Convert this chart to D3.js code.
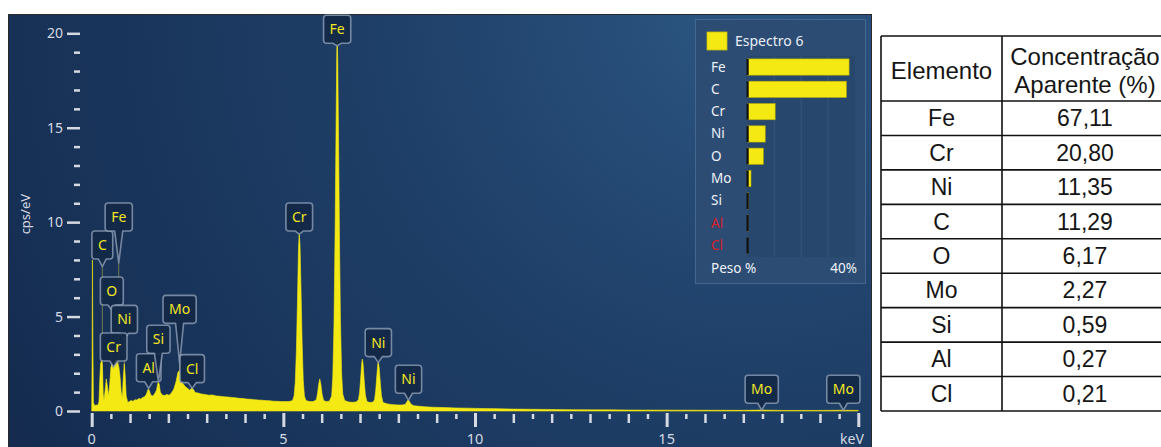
<!DOCTYPE html>
<html>
<head>
<meta charset="utf-8">
<script src="https://cdn.jsdelivr.net/npm/d3@7"></script>
<style>
  html, body { margin: 0; padding: 0; background: #ffffff; }
  svg { display: block; }
</style>
</head>
<body>
<svg id="chart" width="1161" height="447"></svg>
<script>
// ---- EDS spectrum, sampled as [energy (keV), intensity (cps/eV)] ----
const spectrumPoints = [
  [0.00,0],[0.01,2.6],[0.02,8.0],[0.03,3.8],[0.045,0.45],[0.08,0.28],[0.12,0.32],[0.16,0.3],
  [0.19,0.5],[0.21,1.6],[0.23,2.5],[0.26,2.7],[0.28,2.4],[0.30,0.9],[0.32,0.55],[0.35,1.1],
  [0.38,1.7],[0.41,1.3],[0.44,0.8],[0.47,1.4],[0.50,2.3],[0.53,2.5],[0.56,2.2],[0.59,2.6],
  [0.63,2.75],[0.67,2.55],[0.71,2.3],[0.74,1.8],[0.77,1.0],[0.80,0.7],[0.82,1.6],[0.85,2.5],
  [0.87,2.0],[0.90,0.8],[0.94,0.45],[0.98,0.5],[1.03,0.55],[1.08,0.52],[1.13,0.6],[1.18,0.58],
  [1.23,0.66],[1.28,0.64],[1.33,0.72],[1.38,0.75],[1.43,0.9],[1.47,1.15],[1.50,1.1],[1.54,0.85],
  [1.59,0.8],[1.64,0.9],[1.69,1.1],[1.73,1.5],[1.76,1.45],[1.79,1.0],[1.84,0.85],[1.90,0.82],
  [1.96,0.88],[2.02,0.84],[2.08,0.95],[2.14,1.15],[2.20,1.55],[2.25,2.05],[2.29,2.15],[2.33,1.8],
  [2.38,1.45],[2.44,1.3],[2.50,1.2],[2.56,1.1],[2.61,1.22],[2.65,1.15],[2.70,0.98],[2.78,0.95],
  [2.86,0.9],[2.95,0.88],[3.05,0.84],[3.15,0.85],[3.25,0.8],[3.35,0.78],[3.45,0.76],[3.55,0.74],
  [3.65,0.72],[3.75,0.7],[3.85,0.67],[3.95,0.66],[4.05,0.63],[4.15,0.62],[4.25,0.6],[4.35,0.58],
  [4.45,0.57],[4.55,0.55],[4.65,0.54],[4.75,0.52],[4.85,0.51],[4.95,0.5],[5.05,0.5],[5.15,0.5],
  [5.24,0.55],[5.28,0.8],[5.31,1.5],[5.34,3.2],[5.37,6.0],[5.395,8.6],[5.415,9.35],[5.435,8.8],
  [5.46,6.5],[5.49,3.6],[5.52,1.6],[5.55,0.8],[5.59,0.55],[5.68,0.5],[5.78,0.5],[5.86,0.6],
  [5.89,0.9],[5.92,1.4],[5.95,1.7],[5.98,1.4],[6.01,0.9],[6.05,0.55],[6.12,0.5],[6.20,0.52],
  [6.26,0.8],[6.29,1.8],[6.32,4.5],[6.35,9.5],[6.375,15.0],[6.395,19.0],[6.405,19.7],[6.42,18.5],
  [6.44,14.5],[6.465,9.0],[6.49,4.8],[6.52,2.0],[6.55,0.9],[6.60,0.55],[6.70,0.48],[6.80,0.46],
  [6.90,0.48],[6.96,0.6],[6.99,1.0],[7.02,1.8],[7.045,2.55],[7.06,2.75],[7.08,2.5],[7.11,1.6],
  [7.14,0.85],[7.18,0.5],[7.26,0.45],[7.34,0.47],[7.38,0.6],[7.41,1.1],[7.44,1.9],[7.465,2.5],
  [7.48,2.56],[7.50,2.3],[7.53,1.5],[7.56,0.8],[7.60,0.45],[7.70,0.38],[7.80,0.35],[7.90,0.33],
  [8.00,0.32],[8.10,0.32],[8.18,0.35],[8.22,0.48],[8.25,0.58],[8.28,0.55],[8.32,0.38],[8.40,0.28],
  [8.55,0.25],[8.70,0.22],[8.90,0.2],[9.20,0.18],[9.50,0.16],[9.80,0.15],[10.2,0.13],[10.6,0.12],
  [11.0,0.1],[11.5,0.09],[12.0,0.08],[12.5,0.07],[13.0,0.06],[13.5,0.06],[14.0,0.05],[15.0,0.045],
  [16.0,0.04],[17.0,0.035],[17.48,0.05],[18.0,0.03],[19.0,0.03],[19.6,0.04],[20.0,0.03]
];

// ---- element line markers ----
const markerElements = ["C","Fe","O","Ni","Cr","Al","Si","Mo","Cl","Cr","Fe","Ni","Ni","Mo","Mo"];
const markerEnergies = [0.277,0.705,0.525,0.851,0.573,1.487,1.740,2.293,2.622,5.415,6.404,7.478,8.265,17.48,19.61];
const markerPeaks    = [7.64,7.84,5.35,3.76,2.33,1.20,1.55,2.54,1.20,9.37,19.33,2.56,0.58,0.05,0.05];
const markerLabelAt  = [8.05,9.53,5.61,4.11,2.65,1.55,3.06,4.64,1.50,9.53,19.47,2.88,0.94,0.41,0.41];

// ---- axes ----
const xMajorTicks = [0,5,10,15];
const yMajorTicks = [0,5,10,15,20];
const xUnit = "keV";
const yUnit = "cps/eV";

// ---- quantification legend (weight %) ----
const legendTitle = "Espectro 6";
const legendElements = ["Fe","C","Cr","Ni","O","Mo","Si","Al","Cl"];
const legendWeights  = [37.8,36.8,10.3,6.6,5.9,1.3,0.3,0.2,0.1];
const legendFlagged  = ["Al","Cl"];
const legendMax = 40;

// ---- apparent concentration table ----
const tableHeaders = ["Elemento", ["Concentração", "Aparente (%)"]];
const tableElements = ["Fe","Cr","Ni","C","O","Mo","Si","Al","Cl"];
const tableValues   = [67.11,20.80,11.35,11.29,6.17,2.27,0.59,0.27,0.21];

const svg = d3.select("#chart");
const FONT = "'Noto Sans', 'Open Sans', sans-serif";
const YELLOW = "#f4e913";

// panel geometry
const panel = {x0: 8, y0: 14, x1: 871, y1: 460};

const x = d3.scaleLinear().domain([0, 20]).range([91.7, 858.3]);
const y = d3.scaleLinear().domain([0, 20]).range([411, 33.3]);

const defs = svg.append("defs");
const grad = defs.append("radialGradient").attr("id", "panelBg")
  .attr("gradientUnits", "userSpaceOnUse")
  .attr("cx", 760).attr("cy", 0).attr("r", 900);
grad.append("stop").attr("offset", "0").attr("stop-color", "#2c5783");
grad.append("stop").attr("offset", "0.4").attr("stop-color", "#1f4069");
grad.append("stop").attr("offset", "1").attr("stop-color", "#142a4e");

defs.append("clipPath").attr("id", "panelClip")
  .append("rect").attr("x", panel.x0).attr("y", panel.y0)
  .attr("width", panel.x1 - panel.x0).attr("height", panel.y1 - panel.y0);

svg.append("rect")
  .attr("x", panel.x0 + 0.5).attr("y", panel.y0 + 0.5)
  .attr("width", panel.x1 - panel.x0).attr("height", panel.y1 - panel.y0)
  .attr("fill", "url(#panelBg)")
  .attr("stroke", "#2a2a2a").attr("stroke-width", 1);

const plot = svg.append("g").attr("clip-path", "url(#panelClip)");

// ---- marker records ----
const markers = markerElements.map((el, i) => ({
  el, e: markerEnergies[i], peak: markerPeaks[i], at: markerLabelAt[i]
}));

// faint marker lines running down to the baseline
plot.append("g").selectAll("line").data(markers).join("line")
  .attr("x1", d => x(d.e)).attr("x2", d => x(d.e))
  .attr("y1", d => y(d.peak)).attr("y2", y(0))
  .attr("stroke", "rgba(225,215,70,0.45)").attr("stroke-width", 1);

// spectrum
const area = d3.area()
  .x(d => x(d[0])).y0(y(0)).y1(d => y(d[1]))
  .curve(d3.curveLinear);
plot.append("path").datum(spectrumPoints)
  .attr("d", area).attr("fill", YELLOW)
  .attr("stroke", YELLOW).attr("stroke-width", 0.6);

// ---- marker labels: rounded box with pointer ----
const mg = plot.append("g").selectAll("g").data(markers).join("g");
mg.each(function(d) {
  const g = d3.select(this);
  const t = g.append("text").text(d.el)
    .attr("font-family", FONT).attr("font-size", 14)
    .attr("fill", "#f1e625");
  const tw = t.node().getComputedTextLength();
  const w = tw + 12, h = 28, r = 3;
  const cx = x(d.e);
  const x0 = cx - w / 2, x1 = cx + w / 2;
  const yb = y(d.at), yt = yb - h;
  const tipY = y(d.peak);
  const pw = 4;
  const p = `M${x0 + r},${yt} H${x1 - r} Q${x1},${yt} ${x1},${yt + r} V${yb - r} Q${x1},${yb} ${x1 - r},${yb}` +
            ` H${cx + pw} L${cx},${tipY} L${cx - pw},${yb} H${x0 + r} Q${x0},${yb} ${x0},${yb - r}` +
            ` V${yt + r} Q${x0},${yt} ${x0 + r},${yt} Z`;
  g.insert("path", "text").attr("d", p)
    .attr("fill", "rgba(20,40,70,0.92)")
    .attr("stroke", "rgba(150,165,188,0.75)").attr("stroke-width", 1.6)
    .attr("stroke-linejoin", "round");
  t.attr("x", cx).attr("y", yt + h / 2 + 5).attr("text-anchor", "middle");
});

// ---- axes ----
const tickColor = "#d5dae2";
function styleAxis(g) {
  g.select(".domain").remove();
  g.selectAll(".tick line").attr("stroke", tickColor).attr("stroke-width", 2.5);
  g.selectAll(".tick text").attr("fill", tickColor).attr("font-family", FONT);
}

const yMinor = d3.range(0, 21).filter(v => v % 5 !== 0);
svg.append("g").attr("transform", "translate(80,0)")
  .call(d3.axisLeft(y).tickValues(yMinor).tickSize(6).tickFormat(""))
  .call(styleAxis);
svg.append("g").attr("transform", "translate(80,0)")
  .call(d3.axisLeft(y).tickValues(yMajorTicks).tickSize(13).tickPadding(4))
  .call(styleAxis)
  .call(g => g.selectAll(".tick line").attr("stroke-width", 2.5))
  .call(g => g.selectAll(".tick text").attr("font-size", 14).attr("x", -17));

const xHalf = d3.range(0.5, 20, 1);
const xInt = d3.range(1, 20).filter(v => v % 5 !== 0);
const xMaj = d3.range(0, 21, 5);
svg.append("g").attr("transform", "translate(0,414)")
  .call(d3.axisBottom(x).tickValues(xHalf).tickSize(5).tickFormat(""))
  .call(styleAxis);
svg.append("g").attr("transform", "translate(0,414)")
  .call(d3.axisBottom(x).tickValues(xInt).tickSize(9).tickFormat(""))
  .call(styleAxis);
svg.append("g").attr("transform", "translate(0,413)")
  .call(d3.axisBottom(x).tickValues(xMaj).tickSize(14).tickFormat(""))
  .call(styleAxis)
  .call(g => g.selectAll(".tick line").attr("stroke-width", 3));
svg.append("g").selectAll("text").data(xMajorTicks).join("text")
  .attr("x", d => x(d)).attr("y", 444)
  .attr("text-anchor", "middle")
  .attr("font-family", FONT).attr("font-size", 14.5).attr("fill", tickColor)
  .text(d => d);
svg.append("text").attr("x", 852).attr("y", 444)
  .attr("text-anchor", "middle")
  .attr("font-family", FONT).attr("font-size", 14).attr("fill", tickColor)
  .text(xUnit);
svg.append("text")
  .attr("transform", `translate(30,${(y(0) + y(20)) / 2 - 8}) rotate(-90)`)
  .attr("text-anchor", "middle")
  .attr("font-family", FONT).attr("font-size", 13).attr("fill", tickColor)
  .text(yUnit);

// ---- legend panel ----
const lg = svg.append("g");
lg.append("rect").attr("x", 695.5).attr("y", 19.5).attr("width", 170).attr("height", 264)
  .attr("fill", "#2c4c74").attr("stroke", "#45668d").attr("stroke-width", 1);
lg.append("rect").attr("x", 707).attr("y", 32).attr("width", 20).attr("height", 18)
  .attr("fill", YELLOW).attr("stroke", "#c8bd10").attr("stroke-width", 0.8);
lg.append("text").attr("x", 735).attr("y", 46)
  .attr("font-family", FONT).attr("font-size", 14).attr("fill", "#e9eef4")
  .text(legendTitle);

const lx = d3.scaleLinear().domain([0, legendMax]).range([747.5, 855]);
const ly = d3.scaleBand().domain(legendElements).range([56, 256.5]).paddingInner(0.27).paddingOuter(0.13);
lg.append("rect").attr("x", lx(0)).attr("y", 56).attr("width", lx(legendMax) - lx(0)).attr("height", 201)
  .attr("fill", "rgba(10,25,50,0.10)");
lg.append("g").selectAll("line").data([10, 20, 30]).join("line")
  .attr("x1", d => lx(d)).attr("x2", d => lx(d))
  .attr("y1", 56).attr("y2", 257)
  .attr("stroke", "rgba(255,255,255,0.06)").attr("stroke-width", 1.5);
lg.append("g").selectAll("rect").data(legendElements).join("rect")
  .attr("x", lx(0)).attr("y", d => ly(d))
  .attr("width", (d, i) => lx(legendWeights[i]) - lx(0))
  .attr("height", ly.bandwidth())
  .attr("fill", YELLOW).attr("stroke", "#b5aa05").attr("stroke-width", 0.6);
lg.append("g").selectAll("rect").data(legendElements).join("rect")
  .attr("x", lx(0) - 1).attr("y", d => ly(d))
  .attr("width", 2.2).attr("height", ly.bandwidth())
  .attr("fill", "#111111");
lg.append("g").selectAll("text").data(legendElements).join("text")
  .attr("x", 711).attr("y", d => ly(d) + ly.bandwidth() / 2 + 4.5)
  .attr("font-family", FONT).attr("font-size", 13.5)
  .attr("fill", d => legendFlagged.includes(d) ? "#d8202c" : "#eef2f6")
  .text(d => d);
lg.append("text").attr("x", 711).attr("y", 273)
  .attr("font-family", FONT).attr("font-size", 13.5).attr("fill", "#eef2f6")
  .text("Peso %");
lg.append("text").attr("x", 857).attr("y", 273).attr("text-anchor", "end")
  .attr("font-family", FONT).attr("font-size", 13.5).attr("fill", "#eef2f6")
  .text(legendMax + "%");

// ---- concentration table ----
const TFONT = "'Liberation Sans', Arial, sans-serif";
const tg = svg.append("g");
const tLeft = 881, tMid = 1002, tRight = 1172, tTop = 36, tHead = 101, tBottom = 411;
const ty = d3.scaleBand().domain(tableElements).range([tHead, tBottom]);
const fmt = v => d3.format(".2f")(v).replace(".", ",");
const c1 = (tLeft + tMid) / 2, c2 = 1085;

tg.append("text").attr("x", c1).attr("y", 79).attr("text-anchor", "middle")
  .attr("font-family", TFONT).attr("font-size", 24).attr("fill", "#151515")
  .text(tableHeaders[0]);
tg.append("text").attr("x", c2).attr("y", 65).attr("text-anchor", "middle")
  .attr("font-family", TFONT).attr("font-size", 24).attr("fill", "#151515")
  .text(tableHeaders[1][0]);
tg.append("text").attr("x", c2).attr("y", 93).attr("text-anchor", "middle")
  .attr("font-family", TFONT).attr("font-size", 24).attr("fill", "#151515")
  .text(tableHeaders[1][1]);

tg.append("g").selectAll("text").data(tableElements).join("text")
  .attr("x", c1).attr("y", d => ty(d) + ty.bandwidth() / 2 + 8)
  .attr("text-anchor", "middle")
  .attr("font-family", TFONT).attr("font-size", 23).attr("fill", "#151515")
  .text(d => d);
tg.append("g").selectAll("text").data(tableValues).join("text")
  .attr("x", c2).attr("y", (d, i) => ty(tableElements[i]) + ty.bandwidth() / 2 + 8)
  .attr("text-anchor", "middle")
  .attr("font-family", TFONT).attr("font-size", 23).attr("fill", "#151515")
  .text(d => fmt(d));

const rowLines = [tTop, tHead].concat(tableElements.map(d => ty(d) + ty.bandwidth()));
tg.append("g").selectAll("line").data(rowLines).join("line")
  .attr("x1", tLeft).attr("x2", tRight)
  .attr("y1", d => d).attr("y2", d => d)
  .attr("stroke", "#111").attr("stroke-width", 1.6);
tg.append("g").selectAll("line").data([tLeft, tMid]).join("line")
  .attr("x1", d => d).attr("x2", d => d)
  .attr("y1", tTop).attr("y2", tBottom)
  .attr("stroke", "#111").attr("stroke-width", 1.6);
</script>
</body>
</html>
